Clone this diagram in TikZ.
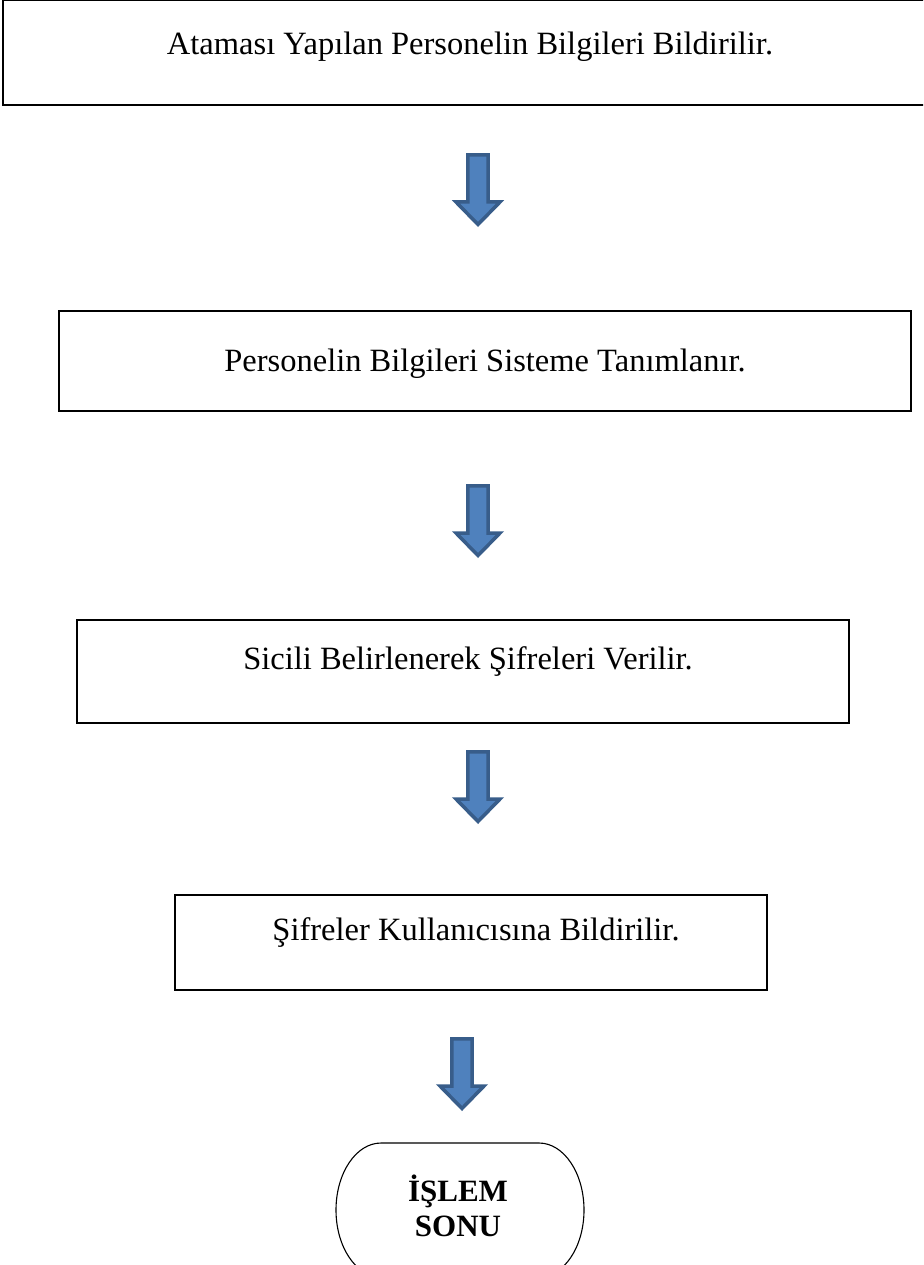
\documentclass[tikz,border=0pt]{standalone}
\usepackage{fontspec}
\setmainfont{Liberation Serif}
\definecolor{arrowfill}{HTML}{4F81BD}
\definecolor{arrowline}{HTML}{385D8A}
\tikzset{
  boxline/.style={draw=black, line width=1.2pt},
  txt/.style={anchor=base, inner sep=0pt, font=\fontsize{32.5}{38}\selectfont},
  btxt/.style={anchor=base, inner sep=0pt, font=\fontsize{31}{36}\selectfont\bfseries},
  barrow/.pic={
    \draw[fill=arrowfill, draw=arrowline, line width=3.5pt, line join=miter]
      (-10.2,1.8) -- (10.2,1.8) -- (10.2,49) -- (22,49) -- (0,71.5) -- (-22,49) -- (-10.2,49) -- cycle;
  }
}
\begin{document}
\begin{tikzpicture}[x=1pt,y=-1pt]
\useasboundingbox (0,0) rectangle (923,1265);
\clip (0,0) rectangle (923,1265);
% boxes
\draw[boxline] (3,0.8) rectangle (940,105);
\node[txt] (t1) at (470,55) {Atamas\i{} Yap\i{}lan Personelin Bilgileri Bildirilir.};
\pic at (478,153) {barrow};
\draw[boxline] (59,311) rectangle (911,411);
\node[txt] (t2) at (485,371) {Personelin Bilgileri Sisteme Tan\i{}mlan\i{}r.};
\pic at (478,484) {barrow};
\draw[boxline] (77,620) rectangle (849,723);
\node[txt] (t3) at (468,669) {Sicili Belirlenerek Şifreleri Verilir.};
\pic at (478,750) {barrow};
\draw[boxline] (175,895) rectangle (767,990);
\node[txt] (t4) at (476,940) {Şifreler Kullan\i{}c\i{}s\i{}na Bildirilir.};
\pic at (462,1037) {barrow};
% terminator
\draw[line width=1.1pt] (381,1143) -- (539,1143)
  arc[start angle=-90, end angle=0, x radius=45, y radius=67]
  arc[start angle=0, end angle=90, x radius=45, y radius=67]
  -- (381,1277)
  arc[start angle=90, end angle=180, x radius=45, y radius=67]
  arc[start angle=180, end angle=270, x radius=45, y radius=67];
\node[btxt] (t5) at (458,1201) {İŞLEM};
\node[btxt] (t6) at (458,1236) {SONU};
\end{tikzpicture}
\end{document}
